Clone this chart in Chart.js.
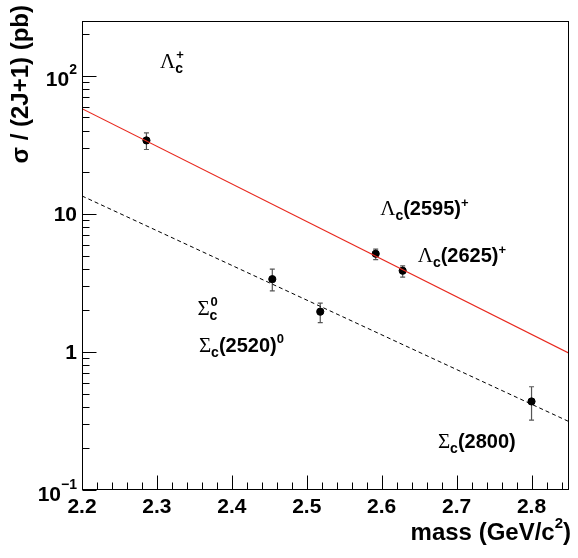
<!DOCTYPE html>
<html>
<head>
<meta charset="utf-8">
<script src="https://cdn.jsdelivr.net/npm/chart.js@4/dist/chart.umd.min.js"></script>
<style>
  body { margin: 0; background: #fff; }
  #wrap { width: 578px; height: 558px; }
</style>
</head>
<body>
<div id="wrap"><canvas id="xsec" width="578" height="558"></canvas></div>
<script>
// measured charm baryon states
const states = ['Λc+', 'Σc0', 'Σc(2520)0', 'Λc(2595)+', 'Λc(2625)+', 'Σc(2800)'];
const mass = [2.286, 2.454, 2.518, 2.592, 2.628, 2.800];
const sigma = [34.1, 3.37, 1.96, 5.15, 3.88, 0.438];
const sigmaHigh = [38.7, 3.99, 2.26, 5.57, 4.21, 0.56];
const sigmaLow = [29.3, 2.77, 1.63, 4.66, 3.49, 0.321];

// exponential fits (straight on log scale), end points
const fitMass = [2.2, 2.85];
const lambdaFit = [57.9, 0.98];
const sigmaFit = [13.5, 0.313];

// axis ticks
const xTicks = [2.2, 2.3, 2.4, 2.5, 2.6, 2.7, 2.8];
const xMinorTicks = [2.22, 2.24, 2.26, 2.28, 2.32, 2.34, 2.36, 2.38, 2.42, 2.44, 2.46, 2.48,
  2.52, 2.54, 2.56, 2.58, 2.62, 2.64, 2.66, 2.68, 2.72, 2.74, 2.76, 2.78, 2.82, 2.84];
const yTicks = [0.1, 1, 10, 100];
const yTickBase = ['10', '1', '10', '10'];
const yTickExp = ['−1', '', '', '2'];
const yMinorTicks = [0.2, 0.3, 0.4, 0.5, 0.6, 0.7, 0.8, 0.9, 2, 3, 4, 5, 6, 7, 8, 9,
  20, 30, 40, 50, 60, 70, 80, 90, 200];

// label anchors in data coordinates (mass, sigma)
const labelMass = [2.304, 2.354, 2.356, 2.598, 2.648, 2.675];
const labelSigma = [115, 1.86, 1.0, 9.9, 4.5, 0.201];

const MAIN = 'bold 20px "Liberation Sans", Arial, sans-serif';
const GREEK = '21px "Liberation Serif", serif';
const SUB = 'bold 14px "Liberation Sans", Arial, sans-serif';
const SUP = 'bold 13px "Liberation Sans", Arial, sans-serif';
const TICK = 'bold 21px "Liberation Sans", Arial, sans-serif';
const TITLE = 'bold 24px "Liberation Sans", Arial, sans-serif';

// rich text pieces for each state label
const labelParts = [
  [{ t: 'Λ', f: GREEK }, { stack: ['c', '+'] }],
  [{ t: 'Σ', f: GREEK }, { stack: ['c', '0'] }],
  [{ t: 'Σ', f: GREEK }, { t: 'c', f: SUB, dy: 5 }, { t: '(2520)', f: MAIN }, { t: '0', f: SUP, dy: -9 }],
  [{ t: 'Λ', f: GREEK }, { t: 'c', f: SUB, dy: 5 }, { t: '(2595)', f: MAIN }, { t: '+', f: SUP, dy: -8 }],
  [{ t: 'Λ', f: GREEK }, { t: 'c', f: SUB, dy: 5 }, { t: '(2625)', f: MAIN }, { t: '+', f: SUP, dy: -8 }],
  [{ t: 'Σ', f: GREEK }, { t: 'c', f: SUB, dy: 5 }, { t: '(2800)', f: MAIN }]
];

function drawRich(ctx, x, y, parts, measureOnly) {
  let cx = x;
  parts.forEach(p => {
    if (p.stack) {
      ctx.font = SUB;
      const w1 = ctx.measureText(p.stack[0]).width;
      if (!measureOnly) ctx.fillText(p.stack[0], cx, y + 5);
      ctx.font = SUP;
      const w2 = ctx.measureText(p.stack[1]).width;
      if (!measureOnly) ctx.fillText(p.stack[1], cx + 1, y - 9);
      cx += Math.max(w1, w2);
    } else {
      ctx.font = p.f;
      if (!measureOnly) ctx.fillText(p.t, cx, y + (p.dy || 0));
      cx += ctx.measureText(p.t).width;
    }
  });
  return cx - x;
}

const errorBars = {
  id: 'errorBars',
  beforeDatasetsDraw(chart) {
    const { ctx, scales: { x, y } } = chart;
    ctx.save();
    ctx.strokeStyle = '#555';
    ctx.lineWidth = 1.2;
    mass.forEach((m, i) => {
      const px = x.getPixelForValue(m);
      const hi = y.getPixelForValue(sigmaHigh[i]);
      const lo = y.getPixelForValue(sigmaLow[i]);
      ctx.beginPath();
      ctx.moveTo(px, hi); ctx.lineTo(px, lo);
      ctx.moveTo(px - 2.5, hi); ctx.lineTo(px + 2.5, hi);
      ctx.moveTo(px - 2.5, lo); ctx.lineTo(px + 2.5, lo);
      ctx.stroke();
    });
    ctx.restore();
  }
};

const frameAndText = {
  id: 'frameAndText',
  afterDraw(chart) {
    const { ctx, chartArea: a, scales: { x, y } } = chart;
    ctx.save();
    ctx.strokeStyle = '#000';
    ctx.lineWidth = 1;
    ctx.strokeRect(Math.round(a.left) + 0.5, Math.round(a.top) + 0.5,
      Math.round(a.right - a.left) - 1, Math.round(a.bottom - a.top) - 1);

    // inward tick marks
    ctx.beginPath();
    const bot = Math.round(a.bottom) - 0.5;
    const lft = Math.round(a.left) + 0.5;
    xTicks.forEach(v => { const p = Math.round(x.getPixelForValue(v)) + 0.5; ctx.moveTo(p, bot); ctx.lineTo(p, bot - 14); });
    xMinorTicks.forEach(v => { const p = Math.round(x.getPixelForValue(v)) + 0.5; ctx.moveTo(p, bot); ctx.lineTo(p, bot - 7); });
    yTicks.forEach(v => { const p = Math.round(y.getPixelForValue(v)) + 0.5; ctx.moveTo(lft, p); ctx.lineTo(lft + 14, p); });
    yMinorTicks.forEach(v => { const p = Math.round(y.getPixelForValue(v)) + 0.5; ctx.moveTo(lft, p); ctx.lineTo(lft + 7, p); });
    ctx.stroke();

    ctx.fillStyle = '#000';
    ctx.textBaseline = 'alphabetic';

    // x tick labels
    ctx.font = TICK;
    ctx.textAlign = 'center';
    xTicks.forEach(v => ctx.fillText(v.toFixed(1), x.getPixelForValue(v), a.bottom + 23));

    // y tick labels with exponents
    ctx.textAlign = 'left';
    yTicks.forEach((v, i) => {
      const py = y.getPixelForValue(v);
      ctx.font = TICK;
      const wb = ctx.measureText(yTickBase[i]).width;
      ctx.font = 'bold 14px "Liberation Sans", Arial, sans-serif';
      const we = yTickExp[i] ? ctx.measureText(yTickExp[i]).width : 0;
      const right = a.left - 5;
      const base = py + (yTickExp[i] ? 10.5 : 7.5);
      ctx.font = TICK;
      ctx.fillText(yTickBase[i], right - wb - we, base);
      if (yTickExp[i]) {
        ctx.font = 'bold 14px "Liberation Sans", Arial, sans-serif';
        ctx.fillText(yTickExp[i], right - we, base - 12);
      }
    });

    // axis titles
    ctx.font = TITLE;
    const t1 = 'mass (GeV/c';
    const w1 = ctx.measureText(t1).width;
    const w3 = ctx.measureText(')').width;
    ctx.font = 'bold 15px "Liberation Sans", Arial, sans-serif';
    const w2 = ctx.measureText('2').width;
    const startX = a.right + 2 - (w1 + w2 + w3);
    ctx.font = TITLE;
    ctx.fillText(t1, startX, 540);
    ctx.fillText(')', startX + w1 + w2, 540);
    ctx.font = 'bold 15px "Liberation Sans", Arial, sans-serif';
    ctx.fillText('2', startX + w1, 528);

    ctx.save();
    ctx.translate(28, 5);
    ctx.rotate(-Math.PI / 2);
    ctx.font = TITLE;
    ctx.textAlign = 'right';
    ctx.fillText('σ / (2J+1) (pb)', 0, 0);
    ctx.restore();

    // state labels
    ctx.textAlign = 'left';
    labelParts.forEach((parts, i) => {
      drawRich(ctx, x.getPixelForValue(labelMass[i]), y.getPixelForValue(labelSigma[i]), parts);
    });
    ctx.restore();
  }
};

new Chart(document.getElementById('xsec'), {
  type: 'scatter',
  data: {
    datasets: [
      {
        label: 'Λc fit',
        data: fitMass.map((m, i) => ({ x: m, y: lambdaFit[i] })),
        showLine: true,
        borderColor: 'rgb(232, 40, 30)',
        borderWidth: 1.2,
        pointRadius: 0
      },
      {
        label: 'Σc fit',
        data: fitMass.map((m, i) => ({ x: m, y: sigmaFit[i] })),
        showLine: true,
        borderColor: '#000',
        borderWidth: 1,
        borderDash: [4, 3],
        pointRadius: 0
      },
      {
        label: 'states',
        data: mass.map((m, i) => ({ x: m, y: sigma[i] })),
        backgroundColor: '#000',
        borderColor: '#000',
        borderWidth: 1,
        pointRadius: 3.6
      }
    ]
  },
  options: {
    responsive: false,
    animation: false,
    layout: { padding: { top: 21, right: 9, left: 0, bottom: 0 } },
    plugins: { legend: { display: false }, tooltip: { enabled: false } },
    scales: {
      x: {
        type: 'linear', min: 2.2, max: 2.85,
        ticks: { display: false },
        grid: { display: false },
        border: { display: false },
        afterFit: s => { s.height = 68; }
      },
      y: {
        type: 'logarithmic', min: 0.1, max: 250,
        ticks: { display: false },
        grid: { display: false },
        border: { display: false },
        afterFit: s => { s.width = 82; }
      }
    }
  },
  plugins: [errorBars, frameAndText]
});
</script>
</body>
</html>
